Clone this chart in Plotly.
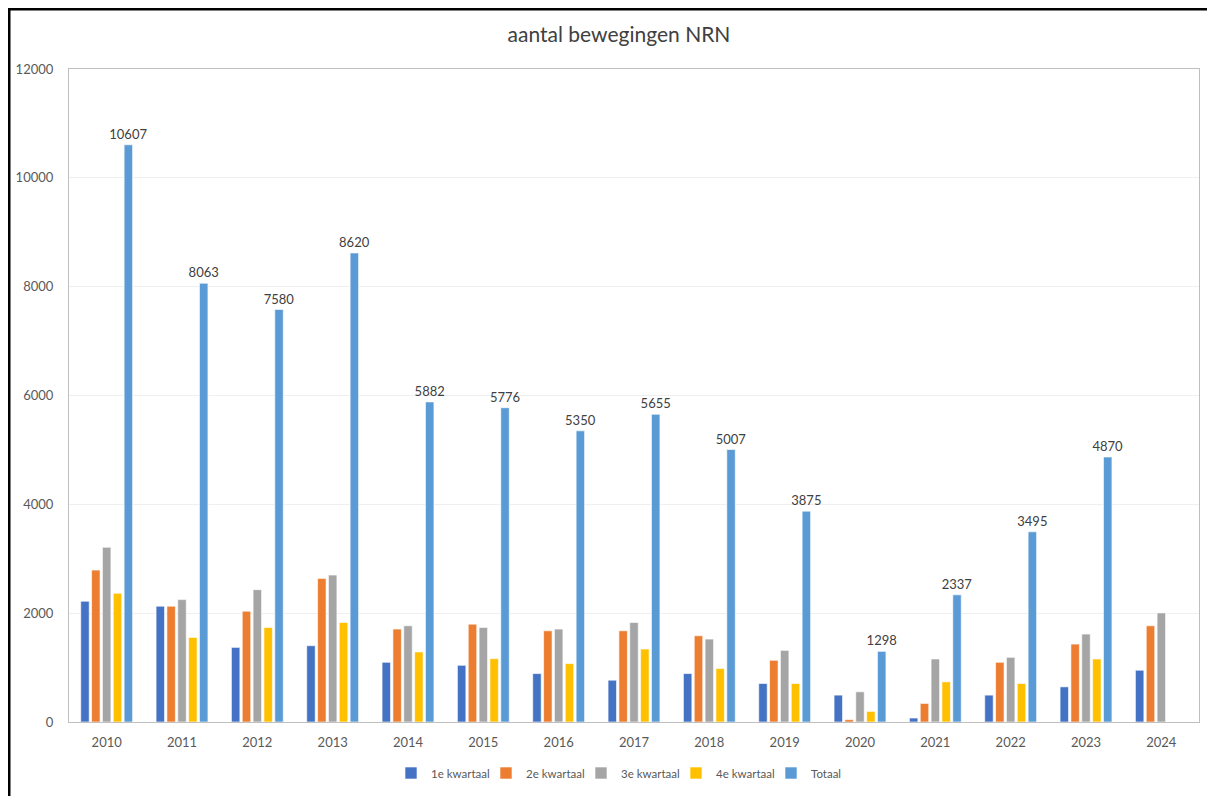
import plotly.graph_objects as go

years = ["2010", "2011", "2012", "2013", "2014", "2015", "2016", "2017",
         "2018", "2019", "2020", "2021", "2022", "2023", "2024"]
q1 = [2219, 2128, 1371, 1402, 1097, 1042, 890, 768, 890, 707, 494, 73, 494, 646, 951]
q2 = [2791, 2128, 2036, 2639, 1707, 1798, 1676, 1676, 1585, 1134, 43, 341, 1097, 1432, 1768]
q3 = [3210, 2249, 2432, 2700, 1768, 1737, 1707, 1828, 1524, 1316, 555, 1158, 1188, 1615, 2005]
q4 = [2365, 1554, 1737, 1828, 1287, 1164, 1073, 1341, 982, 707, 195, 738, 707, 1158, None]
totaal = [10607, 8063, 7580, 8620, 5882, 5776, 5350, 5655, 5007, 3875, 1298, 2337, 3495, 4870, None]

series = [
    ("1e kwartaal", q1, "#4472C4"),
    ("2e kwartaal", q2, "#ED7D31"),
    ("3e kwartaal", q3, "#A5A5A5"),
    ("4e kwartaal", q4, "#FFC000"),
    ("Totaal", totaal, "#5B9BD5"),
]

FONT = "Lato"
fig = go.Figure()
for name, vals, col in series:
    kw = {}
    if name == "Totaal":
        kw = dict(text=[("" if v is None else str(v)) for v in vals],
                  textposition="outside", constraintext="none",
                  textfont=dict(family=FONT, size=13, color="#404040"),
                  cliponaxis=False)
    fig.add_trace(go.Bar(x=years, y=vals, name=name,
                         marker=dict(color=col, line=dict(color="white", width=0.6)),
                         **kw))

# the page body has an 8px margin, so the figure is sized to fill the rest
W, H = 1207, 788
L, R, T, B = 61, 16, 61, 74
pw, ph = W - L - R, H - T - B

def px_x(px):
    return (px - L) / pw

def px_y(py):
    return (H - B - py) / ph

fig.update_layout(
    width=W, height=H,
    margin=dict(l=L, r=R, t=T, b=B, pad=0, autoexpand=False),
    paper_bgcolor="white", plot_bgcolor="white",
    barmode="group", bargap=0.28, bargroupgap=0.22,
    font=dict(family=FONT, color="#595959"),
    title=dict(text="aantal bewegingen NRN", x=px_x(611), xanchor="center",
               xref="paper", y=1 - 27 / H, yanchor="middle",
               font=dict(family=FONT, size=21, color="#404040")),
    legend=dict(orientation="h", x=px_x(383), xanchor="left", y=px_y(765), yanchor="middle",
                font=dict(family=FONT, size=11.5, color="#595959"),
                itemwidth=30, entrywidth=50, entrywidthmode="pixels", traceorder="normal"),
    xaxis=dict(showgrid=False, showline=True, linecolor="#BFBFBF", linewidth=1.2, mirror=True,
               ticks="", tickfont=dict(family=FONT, size=13, color="#595959"),
               ticklabelstandoff=8),
    yaxis=dict(range=[0, 12000], dtick=2000, tickformat="d",
               showgrid=True, gridcolor="#EFEFEF", gridwidth=1,
               showline=True, linecolor="#BFBFBF", linewidth=1.2, mirror=True,
               zeroline=False, ticks="",
               tickfont=dict(family=FONT, size=13, color="#595959"),
               ticklabelstandoff=12),
    shapes=[dict(type="rect", xref="paper", yref="paper",
                 x0=px_x(1), x1=px_x(1240), y0=px_y(820), y1=px_y(1),
                 line=dict(color="black", width=3), fillcolor="rgba(0,0,0,0)", layer="above")],
)

fig.write_html("out.html")
